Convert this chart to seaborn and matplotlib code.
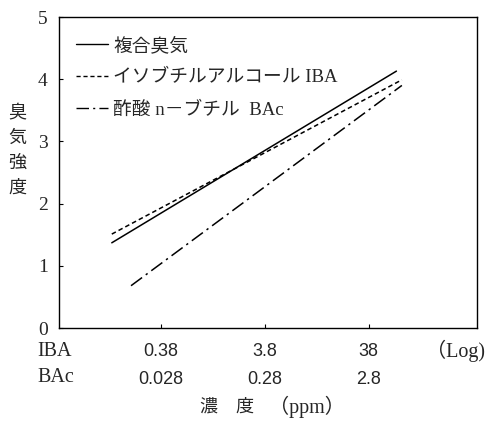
import matplotlib
matplotlib.use("Agg")
import matplotlib.pyplot as plt
import seaborn as sns
import pandas as pd

# ---- data ----
series_names = ["複合臭気", "イソブチルアルコール IBA", "酢酸 n－ブチル  BAc"]
composite_x = [0.128, 70.0]      # IBA-equivalent ppm (log axis)
composite_y = [1.37, 4.13]
iba_x = [0.128, 79.0]
iba_y = [1.51, 3.99]
bac_x = [0.196, 79.0]
bac_y = [0.68, 3.90]

iba_ticks = [0.38, 3.8, 38]
iba_tick_labels = ["0.38", "3.8", "38"]
bac_tick_labels = ["0.028", "0.28", "2.8"]
y_ticks = [0, 1, 2, 3, 4, 5]

df = pd.DataFrame({
    "conc": composite_x + iba_x + bac_x,
    "intensity": composite_y + iba_y + bac_y,
    "series": [series_names[0]] * 2 + [series_names[1]] * 2 + [series_names[2]] * 2,
})

sns.set_theme(style="white")
plt.rcParams["font.family"] = ["Liberation Serif", "Noto Sans CJK JP"]
SANS = ["Liberation Sans", "Noto Sans CJK JP"]

fig = plt.figure(figsize=(4.87, 4.22), dpi=100)
ax = fig.add_axes([0.121, 0.2227, 0.858, 0.737])
ax.set_xscale("log")

dashes = {series_names[0]: "", series_names[1]: (3, 2), series_names[2]: (9, 3, 1.5, 3)}
sns.lineplot(data=df, x="conc", y="intensity", hue="series", style="series",
             palette=["black"] * 3, dashes=dashes, linewidth=1.1, ax=ax,
             legend=True, sort=False)

ax.set_xlim(0.0397, 415)
ax.set_ylim(0, 5)
ax.set_yticks(y_ticks)
ax.set_yticklabels([str(v) for v in y_ticks], fontsize=14)
ax.set_xticks(iba_ticks)
ax.set_xticks([], minor=True)
ax.set_xticklabels([f"{a}\n{b}" for a, b in zip(iba_tick_labels, bac_tick_labels)],
                   fontsize=13, linespacing=1.8, family=SANS)
ax.tick_params(axis="x", direction="in", length=3, width=0.8, color="black",
               bottom=True, pad=11)
ax.tick_params(axis="y", direction="in", length=3, width=0.8, color="black",
               left=True, pad=8)
ax.set_xlabel("")
ax.set_ylabel("")
for s in ax.spines.values():
    s.set_color("black")
    s.set_linewidth(1.0)

# row labels
fig.text(37 / 487, 1 - 351 / 422, "IBA", ha="left", va="center", fontsize=14.5)
fig.text(37 / 487, 1 - 377 / 422, "BAc", ha="left", va="center", fontsize=14.5)
fig.text(485 / 487, 1 - 351 / 422, "（Log)", ha="right", va="center", fontsize=14.5)
fig.text(208 / 487, 1 - 407 / 422, "濃", ha="center", va="center", fontsize=13)
fig.text(244 / 487, 1 - 407 / 422, "度", ha="center", va="center", fontsize=13)
fig.text(307 / 487, 1 - 407 / 422, "（ppm）", ha="center", va="center", fontsize=14.5)
fig.text(17 / 487, 1 - 151 / 422, "臭\n気\n強\n度", ha="center", va="center",
         fontsize=13, linespacing=1.62)

leg = ax.legend(loc="upper left", bbox_to_anchor=(0.0, 0.99), frameon=False,
                fontsize=13.5, handlelength=1.7, labelspacing=0.78, handletextpad=0.3)
for line in leg.get_lines():
    line.set_linewidth(1.0)

fig.savefig("out.png", dpi=100)
